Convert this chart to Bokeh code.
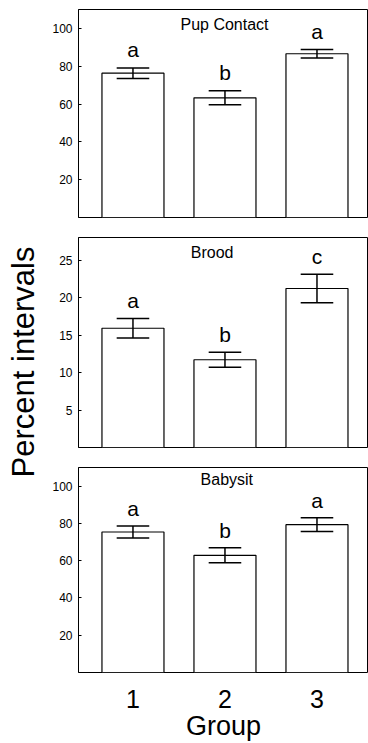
import math
from bokeh.plotting import figure
from bokeh.layouts import row, column
from bokeh.models import Range1d, FixedTicker, ColumnDataSource, Label
from bokeh.core.properties import value
from bokeh.embed import file_html
from bokeh.resources import INLINE

FONT = "Liberation Sans"

groups = [1, 2, 3]
group_labels = ["1", "2", "3"]

pup_mean = [76.3, 63.3, 86.6]
pup_se = [2.8, 3.7, 2.2]
pup_letters = ["a", "b", "a"]

brood_mean = [15.9, 11.7, 21.2]
brood_se = [1.3, 1.0, 1.9]
brood_letters = ["a", "b", "c"]

baby_mean = [75.4, 62.9, 79.3]
baby_se = [3.2, 4.0, 3.7]
baby_letters = ["a", "b", "a"]

panels = [
    ("Pup Contact", pup_mean, pup_se, pup_letters, 110, [20, 40, 60, 80, 100], 102.0, 1.995),
    ("Brood", brood_mean, brood_se, brood_letters, 28, [5, 10, 15, 20, 25], 26.0, 1.86),
    ("Babysit", baby_mean, baby_se, baby_letters, 110, [20, 40, 60, 80, 100], 103.8, 2.02),
]

heights = [227, 230, 286]
borders = [(9, 10), (10, 10), (10, 68)]
frame_h = [208, 210, 208]

BAR_W = 0.674
CAP = 0.177
LETTER_GAP_PX = 18

figs = []
for i, (title, mean, se, letters, ymax, ticks, ty, tx) in enumerate(panels):
    top_b, bot_b = borders[i]
    p = figure(width=328, height=heights[i], output_backend="svg", toolbar_location=None,
               x_range=Range1d(0.408, 3.56), y_range=Range1d(0, ymax),
               min_border_left=38, min_border_right=0, min_border_top=top_b,
               min_border_bottom=bot_b)
    p.grid.visible = False
    p.outline_line_color = "black"
    p.outline_line_width = 1
    p.background_fill_color = "white"
    p.border_fill_color = "white"

    hi = [m + s for m, s in zip(mean, se)]
    lo = [m - s for m, s in zip(mean, se)]
    gap = LETTER_GAP_PX * ymax / frame_h[i]
    src = ColumnDataSource(dict(x=groups, top=mean, hi=hi, lo=lo,
                                ly=[h + gap for h in hi],
                                xl=[g - CAP for g in groups], xr=[g + CAP for g in groups],
                                letter=letters))
    p.vbar(x="x", top="top", bottom=0, width=BAR_W, source=src,
           fill_color="white", line_color="black", line_width=1.2)
    p.segment(x0="x", x1="x", y0="lo", y1="hi", source=src, line_color="black", line_width=1.5)
    p.segment(x0="xl", x1="xr", y0="hi", y1="hi", source=src, line_color="black", line_width=1.5)
    p.segment(x0="xl", x1="xr", y0="lo", y1="lo", source=src, line_color="black", line_width=1.5)
    p.text(x="x", y="ly", text="letter", source=src,
           text_align="center", text_baseline="alphabetic",
           text_font=value(FONT), text_font_size="21px", text_color="black")

    p.add_layout(Label(x=tx, y=ty, text=title, text_align="center", text_baseline="alphabetic",
                       text_font=FONT, text_font_size="16px", text_color="black"))

    ya = p.yaxis[0]
    ya.ticker = FixedTicker(ticks=ticks)
    ya.axis_line_color = "black"
    ya.major_tick_in = 3
    ya.major_tick_out = 0
    ya.major_tick_line_color = "black"
    ya.minor_tick_line_color = None
    ya.major_label_text_font = FONT
    ya.major_label_text_font_size = "12px"
    ya.major_label_text_color = "black"
    ya.major_label_standoff = 6

    xa = p.xaxis[0]
    if i < 2:
        xa.visible = False
    else:
        xa.ticker = FixedTicker(ticks=groups)
        xa.major_label_overrides = {g: l for g, l in zip(groups, group_labels)}
        xa.axis_line_color = None
        xa.major_tick_line_color = None
        xa.minor_tick_line_color = None
        xa.major_label_text_font = FONT
        xa.major_label_text_font_size = "25px"
        xa.major_label_text_color = "black"
        xa.major_label_standoff = 11
        xa.axis_label = "Group"
        xa.axis_label_text_font = FONT
        xa.axis_label_text_font_size = "27px"
        xa.axis_label_text_font_style = "normal"
        xa.axis_label_text_color = "black"
        xa.axis_label_standoff = 0
    figs.append(p)

left = figure(width=40, height=743, output_backend="svg", toolbar_location=None,
              x_range=Range1d(0, 40), y_range=Range1d(0, 743),
              min_border=0)
left.axis.visible = False
left.grid.visible = False
left.outline_line_color = None
left.text(x=[22.5], y=[381.5], text=["Percent intervals"], angle=math.pi / 2,
          text_align="center", text_baseline="middle",
          text_font=value(FONT), text_font_size="31px", text_color="black")

layout = row(left, column(*figs))
open("out.html", "w").write(file_html(layout, INLINE))
